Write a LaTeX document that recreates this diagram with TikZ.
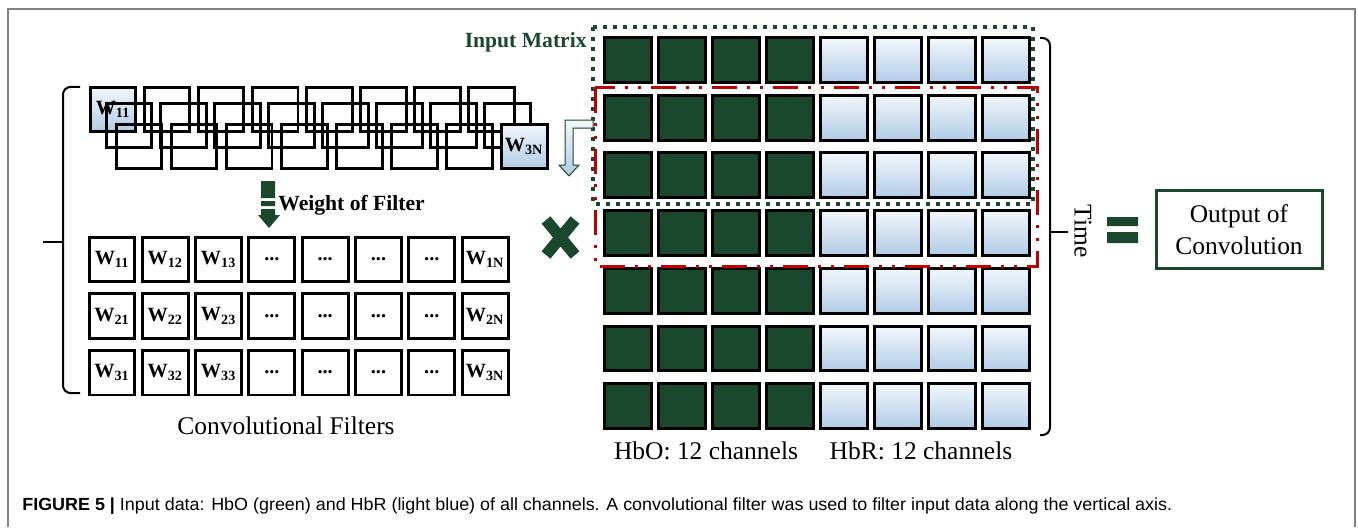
\documentclass[tikz,border=0pt]{standalone}
\usepackage{fontspec}
\setmainfont{Liberation Serif}
\newfontfamily\capfont{Liberation Sans}
\usetikzlibrary{positioning}
\definecolor{dkgreen}{RGB}{27,71,44}
\definecolor{hbrtop}{RGB}{242,247,252}
\definecolor{hbrbot}{RGB}{176,203,230}
\definecolor{frred}{RGB}{192,0,0}
\definecolor{framegray}{RGB}{128,128,128}
\tikzset{
  sq/.style={draw=black,line width=0.06cm,minimum width=0.94cm,minimum height=0.9cm,inner sep=0pt,outer sep=0pt},
  hbo/.style={sq,fill=dkgreen},
  hbr/.style={sq,top color=hbrtop,bottom color=hbrbot},
  filt/.style={draw=black,line width=0.06cm,minimum width=0.92cm,minimum height=0.9cm,inner sep=0pt,outer sep=0pt,font=\fontsize{11.5}{12}\selectfont\bfseries},
  lbl/.style={font=\fontsize{14.5}{18}\selectfont,inner sep=0pt},
  boldlbl/.style={font=\fontsize{12.3}{14}\selectfont\bfseries,inner sep=0pt},
  inframe/.style={dkgreen,line width=0.08cm,dash pattern=on 0.08cm off 0.12cm},
  winframe/.style={frred,line width=0.06cm,dash pattern=on 0.5cm off 0.2cm on 0.06cm off 0.2cm on 0.06cm off 0.2cm},
  bracel/.style={black,line width=0.04cm,rounded corners=0.15cm}
}
\newcommand{\wlab}[1]{W\textsubscript{#1}}
\newcommand{\hbosq}[3]{\node[hbo] (#1) at ({#2},{#3}) {};}
\newcommand{\hbrsq}[3]{\node[hbr] (#1) at ({#2},{#3}) {};}
\newcommand{\wbox}[4]{\node[filt] (#1) at ({#2},{#3}) {#4};}

\begin{document}
\begin{tikzpicture}[x=0.02cm,y=-0.02cm]
    \useasboundingbox (0,0) rectangle (1358,527);
    \draw[framegray,line width=0.04cm] (8,527) -- (8,9) -- (1355,9) -- (1355,527);

    % sliding filter
    \node[filt,top color=hbrtop,bottom color=hbrbot] (s11) at (113,109.5) {};
    \foreach \c in {0,...,7}{
      \node[filt] (a\c) at ({113+54*\c},109.5) {};
      \node[filt] (b\c) at ({129+54.1*\c},125.5) {};
      \node[filt] (c\c) at ({139+55*\c},146.5) {};
    }
    \node[filt,draw=none] at (s11) {\wlab{11}};
    \node[filt,top color=hbrtop,bottom color=hbrbot] (s3N) at (c7) {\wlab{3N}};

    % weight of filter arrow
    \fill[dkgreen] (261,181) rectangle (275,198) (261,201) rectangle (275,206) (261,209) rectangle (275,215);
    \fill[dkgreen] (258,215) -- (280,215) -- (269,228) -- cycle;
    \node[boldlbl,anchor=west] (wof) at (278,205) {Weight of Filter};

    % filters
    \foreach \r in {1,2,3}{
      \foreach \c/\s in {1/1,2/2,3/3,8/N}{\wbox{w\r\s}{112+53.3*(\c-1)}{259.5+56.5*(\r-1)}{\wlab{\r\s}}}
      \foreach \c in {4,...,7}{\wbox{w\r-\c}{112+53.3*(\c-1)}{259.5+56.5*(\r-1)}{...}}
    }
    \node[lbl] (cf) at (286,426) {Convolutional Filters};
    \draw[bracel] (80,87) -- (63,87) -- (63,393) -- (80,393);
    \draw[black,line width=0.04cm] (63,242) -- (43,242);

    % input matrix
    \foreach \r in {0,...,6}{
      \foreach \c in {0,...,3}{\hbosq{o\r\c}{627.5+54.1*\c}{60+57.7*\r}}
      \foreach \c in {4,...,7}{\hbrsq{d\r\c}{627.5+54.1*\c}{60+57.7*\r}}
    }
    \draw[inframe] (593,27) rectangle (1033,204);
    \draw[winframe] (595,88) rectangle (1037,266);
    \node[boldlbl,text=dkgreen,anchor=east] (inm) at (587,42) {Input Matrix};
    \node[lbl] (hbo) at (706,451) {HbO: 12 channels};
    \node[lbl] (hbr) at (921,451) {HbR: 12 channels};

    % slide down
    \draw[dkgreen,line width=0.02cm,top color=hbrtop,bottom color=hbrbot] (593,120) -- (565,120) -- (565,165) -- (559,165) -- (569,176) -- (579,165) -- (573,165) -- (573,128) -- (593,128) -- cycle;
    \draw[dkgreen,line width=0.23cm] (546,220) -- (575,255) (546,255) -- (575,220);

    % time and output
    \draw[bracel] (1040,38) -- (1050,38) -- (1050,435) -- (1040,435);
    \draw[black,line width=0.04cm] (1050,232) -- (1068,232);
    \node[lbl,rotate=-90] (time) at (1083,231) {Time};
    \fill[dkgreen] (1107,217) rectangle (1138,226) (1107,232) rectangle (1138,243);
    \node[lbl,draw=dkgreen,line width=0.06cm,minimum width=3.32cm,minimum height=1.58cm,align=center] (out) at (1239,229.5) {Output of\\Convolution};

    \node[anchor=west,inner sep=0pt] (cap) at (22,506) {\scalebox{1.02}[1]{\capfont\fontsize{10}{12}\selectfont\textbf{FIGURE 5 |} Input data: HbO (green) and HbR (light blue) of all channels. A convolutional filter was used to filter input data along the vertical axis.}};
\end{tikzpicture}
\end{document}
